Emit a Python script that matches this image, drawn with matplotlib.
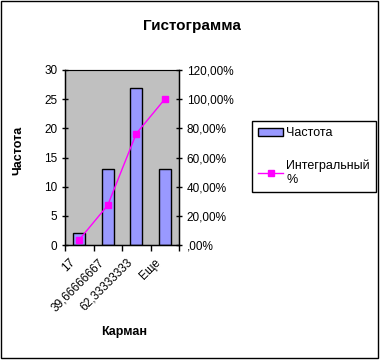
import matplotlib
matplotlib.use("Agg")
import matplotlib.pyplot as plt
import matplotlib.patches as mpatches
import matplotlib.transforms as mtransforms
from matplotlib.lines import Line2D
from matplotlib.ticker import FuncFormatter, MultipleLocator

plt.rcParams["font.family"] = ["Liberation Sans", "DejaVu Sans"]

# ---- data ----
bins = ["17", "39,66666667", "62,33333333", "Еще"]
freq = [2, 13, 27, 13]
cum_pct = [0.0364, 0.2727, 0.7636, 1.0]

BAR_COLOR = "#9999FF"
LINE_COLOR = "#FF00FF"
tick_fs = 8.5
W, H = 383, 362

fig = plt.figure(figsize=(W / 100, H / 100), dpi=100)
fig.patch.set_facecolor("white")
# outer chart border
fig.patches.append(mpatches.Rectangle((1 / W, 1 - 358 / H), 377 / W, 357 / H,
                                      transform=fig.transFigure, fill=False,
                                      edgecolor="black", linewidth=1.0))

ax = fig.add_axes([65 / W, 1 - 245 / H, 114 / W, 175 / H])
ax.set_facecolor("#C0C0C0")
x = list(range(len(bins)))
ax.bar(x, freq, width=0.42, color=BAR_COLOR, edgecolor="black", linewidth=1.0, zorder=2)
ax.set_xlim(-0.5, len(bins) - 0.5)
ax.set_ylim(0, 30)
ax.yaxis.set_major_locator(MultipleLocator(5))
ax.set_xticks(x)
ax.set_xticklabels(bins, rotation=45, ha="right", rotation_mode="anchor", fontsize=tick_fs)
ax.tick_params(axis="x", length=0, pad=4)
# Excel-style placement of rotated category labels
shift = mtransforms.ScaledTranslation(-10 / 100, -6 / 100, fig.dpi_scale_trans)
for lbl in ax.get_xticklabels():
    lbl.set_transform(lbl.get_transform() + shift)
ax.set_xticks([i + 0.5 for i in range(-1, len(bins))], minor=True)
ax.tick_params(axis="x", which="minor", length=4, direction="out", width=1)
ax.tick_params(axis="y", labelsize=tick_fs, length=4, direction="inout", width=1)
for s in ["left", "bottom", "right"]:
    ax.spines[s].set_linewidth(1.0)
ax.spines["top"].set_color("#808080")

ax2 = ax.twinx()
ax2.plot(x, cum_pct, color=LINE_COLOR, linewidth=1.0, marker="s", markersize=5,
         markerfacecolor=LINE_COLOR, markeredgecolor=LINE_COLOR, zorder=3)
ax2.set_ylim(0, 1.2)
ax2.yaxis.set_major_locator(MultipleLocator(0.2))


def pct_fmt(v, pos):
    s = f"{v * 100:.2f}".replace(".", ",")
    if s.startswith("0,"):
        s = s[1:]
    return s + "%"


ax2.yaxis.set_major_formatter(FuncFormatter(pct_fmt))
ax2.tick_params(axis="y", labelsize=tick_fs, length=4, direction="inout", width=1)

fig.text(192 / W, 1 - 26 / H, "Гистограмма", ha="center", va="center",
         fontsize=11, fontweight="bold")
fig.text(124 / W, 1 - 332 / H, "Карман", ha="center", va="center",
         fontsize=9, fontweight="bold")
fig.text(18 / W, 1 - 150 / H, "Частота", ha="center", va="center",
         fontsize=9, fontweight="bold", rotation=90)

handles = [
    mpatches.Patch(facecolor=BAR_COLOR, edgecolor="black", linewidth=1.0),
    Line2D([0], [0], color=LINE_COLOR, linewidth=1.0, marker="s", markersize=5),
]
fig.legend(handles, ["Частота", "Интегральный\n%"], loc="upper left",
           bbox_to_anchor=(252 / W, 1 - 121 / H), fontsize=9, frameon=True,
           fancybox=False, edgecolor="black", framealpha=1, labelspacing=1.6,
           handlelength=2.0, handletextpad=0.25, borderpad=0.5, borderaxespad=0)

fig.savefig("out.png", dpi=100)
